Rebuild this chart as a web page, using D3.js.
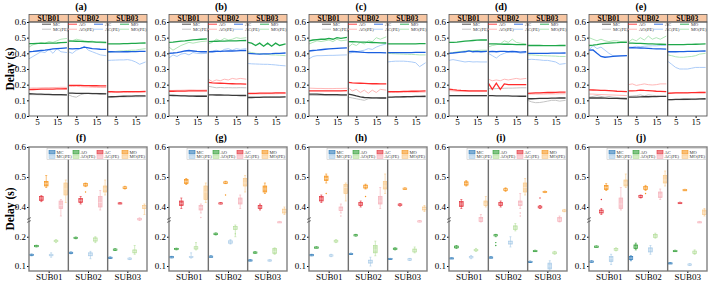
<!DOCTYPE html>
<html>
<head>
<meta charset="utf-8">
<script src="https://cdn.jsdelivr.net/npm/d3@7"></script>
<style>
  body { margin: 0; background: #fff; }
  text { font-family: "Liberation Serif", "Times New Roman", serif; }
</style>
</head>
<body>
<svg id="chart" width="708" height="283"></svg>
<script>
const subjects = ["SUB01", "SUB02", "SUB03"];
const seriesNames = ["MC", "AO", "AC", "MO", "MC(PE)", "AO(PE)", "AC(PE)", "MO(PE)"];
const trials = [1, 3, 5, 7, 9, 11, 13, 15, 17, 20];
const lineTitles = ["(a)", "(b)", "(c)", "(d)", "(e)"];
const boxTitles = ["(f)", "(g)", "(h)", "(i)", "(j)"];
const lineTicksY = [0, 0.1, 0.2, 0.3, 0.4, 0.5, 0.6];
const lineTicksX = [5, 15];
const boxTicksLow = [0.1, 0.2];
const boxTicksHigh = [0.4, 0.5, 0.6];

// delay per trial: [subject][series][trial]
const delayA = [
  [[0.142,0.141,0.14,0.139,0.138,0.138,0.137,0.136,0.136,0.135],
   [0.168,0.169,0.17,0.171,0.171,0.172,0.172,0.173,0.173,0.174],
   [0.41,0.412,0.415,0.418,0.42,0.424,0.428,0.43,0.432,0.435],
   [0.462,0.462,0.463,0.463,0.464,0.465,0.465,0.466,0.468,0.47],
   [0.137,0.136,0.136,0.135,0.135,0.134,0.134,0.133,0.133,0.133],
   [0.178,0.179,0.179,0.18,0.181,0.181,0.182,0.182,0.183,0.183],
   [0.365,0.38,0.395,0.41,0.405,0.425,0.4,0.43,0.41,0.405],
   [0.44,0.455,0.46,0.47,0.465,0.475,0.47,0.48,0.49,0.495]],
  [[0.146,0.146,0.145,0.145,0.144,0.144,0.143,0.143,0.142,0.141],
   [0.196,0.196,0.195,0.195,0.194,0.194,0.193,0.193,0.192,0.192],
   [0.43,0.428,0.43,0.432,0.44,0.435,0.43,0.428,0.426,0.425],
   [0.478,0.478,0.477,0.476,0.475,0.474,0.473,0.472,0.471,0.47],
   [0.135,0.125,0.12,0.135,0.142,0.144,0.145,0.145,0.144,0.144],
   [0.19,0.188,0.19,0.187,0.186,0.185,0.184,0.183,0.182,0.182],
   [0.41,0.4,0.42,0.43,0.445,0.42,0.41,0.4,0.39,0.385],
   [0.485,0.48,0.49,0.485,0.48,0.475,0.478,0.47,0.468,0.465]],
  [[0.122,0.123,0.124,0.125,0.126,0.127,0.127,0.128,0.128,0.129],
   [0.155,0.155,0.154,0.154,0.155,0.155,0.156,0.156,0.156,0.157],
   [0.41,0.41,0.409,0.409,0.41,0.41,0.411,0.411,0.412,0.412],
   [0.46,0.46,0.46,0.461,0.462,0.462,0.463,0.464,0.465,0.466],
   [0.12,0.121,0.121,0.122,0.122,0.122,0.123,0.123,0.123,0.124],
   [0.15,0.15,0.15,0.151,0.151,0.151,0.151,0.152,0.152,0.152],
   [0.355,0.356,0.357,0.358,0.358,0.36,0.355,0.345,0.33,0.345],
   [0.405,0.41,0.412,0.415,0.415,0.418,0.42,0.42,0.425,0.43]]
];
const delayB = [
  [[0.132,0.131,0.13,0.129,0.128,0.127,0.127,0.126,0.126,0.126],
   [0.158,0.158,0.159,0.159,0.159,0.16,0.16,0.16,0.161,0.161],
   [0.40,0.402,0.405,0.41,0.415,0.418,0.415,0.412,0.41,0.41],
   [0.47,0.472,0.475,0.478,0.48,0.483,0.486,0.488,0.49,0.492],
   [0.133,0.132,0.132,0.131,0.131,0.13,0.13,0.13,0.13,0.129],
   [0.163,0.163,0.164,0.164,0.165,0.166,0.166,0.165,0.165,0.166],
   [0.37,0.39,0.38,0.395,0.40,0.39,0.405,0.40,0.398,0.40],
   [0.44,0.42,0.435,0.45,0.46,0.47,0.465,0.47,0.475,0.478]],
  [[0.135,0.135,0.134,0.134,0.133,0.133,0.132,0.132,0.131,0.131],
   [0.215,0.212,0.21,0.209,0.208,0.207,0.206,0.205,0.205,0.204],
   [0.41,0.41,0.412,0.413,0.414,0.415,0.415,0.416,0.417,0.418],
   [0.475,0.476,0.477,0.478,0.478,0.479,0.48,0.48,0.481,0.482],
   [0.19,0.185,0.18,0.182,0.18,0.181,0.18,0.18,0.181,0.18],
   [0.235,0.22,0.23,0.225,0.235,0.23,0.24,0.235,0.24,0.235],
   [0.41,0.415,0.42,0.41,0.425,0.43,0.42,0.43,0.425,0.43],
   [0.46,0.47,0.49,0.48,0.495,0.485,0.49,0.5,0.495,0.5]],
  [[0.118,0.118,0.119,0.119,0.12,0.12,0.12,0.121,0.121,0.122],
   [0.145,0.145,0.145,0.146,0.146,0.146,0.146,0.147,0.147,0.147],
   [0.40,0.398,0.396,0.395,0.396,0.397,0.398,0.40,0.40,0.402],
   [0.47,0.465,0.45,0.465,0.445,0.465,0.445,0.465,0.45,0.46],
   [0.12,0.12,0.12,0.121,0.121,0.121,0.122,0.122,0.122,0.122],
   [0.14,0.14,0.141,0.141,0.141,0.142,0.142,0.142,0.143,0.143],
   [0.335,0.333,0.332,0.331,0.33,0.33,0.328,0.326,0.323,0.32],
   [0.41,0.405,0.4,0.398,0.395,0.393,0.39,0.39,0.388,0.385]]
];
const delayC = [
  [[0.14,0.14,0.139,0.138,0.137,0.137,0.136,0.136,0.135,0.135],
   [0.16,0.16,0.161,0.16,0.16,0.16,0.16,0.161,0.161,0.162],
   [0.415,0.418,0.42,0.423,0.426,0.428,0.43,0.432,0.433,0.435],
   [0.48,0.485,0.488,0.49,0.49,0.495,0.49,0.5,0.495,0.502],
   [0.132,0.132,0.131,0.131,0.131,0.13,0.13,0.13,0.13,0.13],
   [0.178,0.177,0.176,0.176,0.175,0.175,0.175,0.176,0.176,0.177],
   [0.365,0.38,0.385,0.385,0.386,0.387,0.387,0.388,0.389,0.39],
   [0.46,0.47,0.48,0.475,0.48,0.485,0.475,0.49,0.48,0.485]],
  [[0.14,0.135,0.128,0.122,0.118,0.117,0.116,0.116,0.115,0.115],
   [0.215,0.212,0.21,0.209,0.208,0.207,0.206,0.206,0.205,0.205],
   [0.41,0.412,0.41,0.408,0.406,0.405,0.405,0.404,0.404,0.403],
   [0.475,0.474,0.473,0.472,0.471,0.47,0.469,0.468,0.467,0.466],
   [0.12,0.115,0.11,0.105,0.10,0.11,0.112,0.114,0.115,0.115],
   [0.18,0.16,0.17,0.15,0.165,0.145,0.165,0.15,0.17,0.165],
   [0.40,0.405,0.41,0.415,0.42,0.43,0.425,0.44,0.45,0.46],
   [0.44,0.46,0.45,0.47,0.46,0.48,0.475,0.5,0.49,0.505]],
  [[0.12,0.121,0.122,0.122,0.123,0.124,0.124,0.125,0.125,0.126],
   [0.155,0.155,0.156,0.156,0.157,0.157,0.158,0.158,0.159,0.16],
   [0.405,0.405,0.404,0.404,0.405,0.405,0.405,0.406,0.406,0.406],
   [0.46,0.46,0.46,0.46,0.46,0.461,0.461,0.461,0.462,0.462],
   [0.118,0.118,0.119,0.119,0.12,0.12,0.12,0.121,0.121,0.121],
   [0.15,0.15,0.15,0.151,0.151,0.152,0.152,0.152,0.153,0.153],
   [0.345,0.348,0.35,0.35,0.35,0.348,0.345,0.34,0.315,0.34],
   [0.40,0.398,0.397,0.396,0.395,0.394,0.393,0.392,0.39,0.39]]
];
const delayD = [
  [[0.13,0.13,0.13,0.13,0.13,0.13,0.13,0.13,0.13,0.13],
   [0.172,0.168,0.165,0.163,0.162,0.161,0.16,0.16,0.16,0.16],
   [0.40,0.402,0.405,0.408,0.41,0.415,0.41,0.413,0.41,0.412],
   [0.47,0.47,0.472,0.475,0.478,0.48,0.482,0.484,0.485,0.485],
   [0.128,0.128,0.128,0.128,0.128,0.128,0.128,0.128,0.128,0.128],
   [0.162,0.16,0.158,0.157,0.157,0.157,0.157,0.157,0.157,0.157],
   [0.355,0.36,0.355,0.35,0.345,0.348,0.345,0.346,0.345,0.345],
   [0.40,0.405,0.41,0.412,0.415,0.416,0.417,0.418,0.42,0.42]],
  [[0.13,0.13,0.129,0.129,0.128,0.128,0.127,0.127,0.126,0.126],
   [0.21,0.17,0.21,0.17,0.205,0.2,0.2,0.2,0.2,0.2],
   [0.41,0.412,0.41,0.413,0.412,0.41,0.412,0.41,0.408,0.41],
   [0.46,0.46,0.46,0.459,0.458,0.458,0.457,0.456,0.456,0.455],
   [0.175,0.173,0.175,0.176,0.177,0.178,0.178,0.179,0.18,0.18],
   [0.235,0.225,0.23,0.225,0.235,0.23,0.235,0.24,0.235,0.24],
   [0.40,0.385,0.37,0.39,0.40,0.41,0.405,0.41,0.40,0.405],
   [0.44,0.45,0.455,0.46,0.48,0.47,0.49,0.47,0.465,0.46]],
  [[0.11,0.11,0.111,0.112,0.113,0.113,0.114,0.114,0.115,0.115],
   [0.145,0.146,0.147,0.148,0.149,0.15,0.15,0.151,0.152,0.152],
   [0.40,0.40,0.40,0.40,0.40,0.40,0.401,0.401,0.401,0.402],
   [0.45,0.45,0.45,0.45,0.449,0.449,0.449,0.449,0.45,0.45],
   [0.10,0.09,0.085,0.086,0.09,0.095,0.1,0.1,0.095,0.1],
   [0.14,0.14,0.14,0.14,0.14,0.141,0.141,0.141,0.142,0.142],
   [0.36,0.362,0.36,0.358,0.355,0.355,0.35,0.345,0.33,0.335],
   [0.39,0.39,0.388,0.386,0.385,0.384,0.383,0.382,0.38,0.38]]
];
const delayE = [
  [[0.115,0.116,0.115,0.115,0.114,0.113,0.113,0.112,0.111,0.11],
   [0.167,0.166,0.165,0.164,0.163,0.162,0.16,0.158,0.157,0.155],
   [0.42,0.422,0.40,0.38,0.375,0.378,0.38,0.382,0.384,0.385],
   [0.45,0.452,0.455,0.46,0.463,0.465,0.467,0.468,0.47,0.47],
   [0.12,0.125,0.13,0.125,0.12,0.125,0.12,0.118,0.117,0.115],
   [0.14,0.14,0.138,0.137,0.136,0.135,0.134,0.133,0.132,0.13],
   [0.42,0.45,0.43,0.44,0.42,0.40,0.385,0.385,0.385,0.385],
   [0.50,0.49,0.48,0.49,0.48,0.475,0.48,0.48,0.475,0.478]],
  [[0.12,0.12,0.121,0.122,0.123,0.123,0.124,0.124,0.125,0.125],
   [0.16,0.16,0.162,0.165,0.163,0.162,0.16,0.158,0.157,0.155],
   [0.435,0.436,0.435,0.434,0.433,0.432,0.43,0.429,0.428,0.427],
   [0.465,0.465,0.464,0.463,0.462,0.461,0.46,0.459,0.458,0.457],
   [0.125,0.128,0.13,0.135,0.128,0.135,0.132,0.13,0.125,0.125],
   [0.2,0.205,0.195,0.2,0.205,0.2,0.198,0.2,0.205,0.205],
   [0.44,0.44,0.445,0.442,0.445,0.447,0.448,0.448,0.45,0.45],
   [0.47,0.49,0.48,0.50,0.485,0.51,0.49,0.50,0.49,0.51]],
  [[0.105,0.105,0.106,0.106,0.107,0.107,0.108,0.108,0.109,0.11],
   [0.145,0.146,0.147,0.147,0.148,0.148,0.149,0.149,0.15,0.15],
   [0.41,0.41,0.41,0.411,0.411,0.412,0.412,0.413,0.414,0.415],
   [0.455,0.455,0.455,0.456,0.456,0.457,0.457,0.458,0.459,0.46],
   [0.103,0.103,0.104,0.104,0.104,0.105,0.105,0.105,0.106,0.106],
   [0.148,0.148,0.149,0.149,0.15,0.15,0.15,0.151,0.151,0.151],
   [0.35,0.33,0.31,0.30,0.30,0.30,0.305,0.31,0.31,0.31],
   [0.39,0.385,0.378,0.375,0.375,0.378,0.38,0.385,0.395,0.40]]
];

// box stats: [subject][series] = [low, q1, median, q3, high]
const boxF = [
  [[0.135,0.136,0.138,0.14,0.141],[0.165,0.166,0.168,0.17,0.171],[0.418,0.422,0.43,0.435,0.438],[0.465,0.47,0.478,0.485,0.505],
   [0.13,0.135,0.138,0.14,0.145],[0.18,0.183,0.185,0.188,0.19],[0.37,0.395,0.405,0.42,0.425],[0.415,0.44,0.46,0.48,0.49]],
  [[0.142,0.143,0.145,0.147,0.148],[0.193,0.194,0.196,0.198,0.199],[0.41,0.415,0.422,0.428,0.435],[0.468,0.47,0.474,0.478,0.48],
   [0.125,0.135,0.14,0.145,0.15],[0.18,0.185,0.19,0.196,0.2],[0.39,0.40,0.415,0.435,0.455],[0.44,0.45,0.46,0.47,0.49]],
  [[0.126,0.127,0.128,0.13,0.131],[0.153,0.154,0.156,0.158,0.159],[0.411,0.412,0.413,0.414,0.415],[0.46,0.462,0.465,0.467,0.469],
   [0.122,0.123,0.125,0.127,0.128],[0.14,0.145,0.15,0.155,0.17],[0.355,0.357,0.36,0.362,0.364],[0.375,0.395,0.40,0.405,0.41]]
];
const boxG = [
  [[0.128,0.129,0.13,0.132,0.133],[0.155,0.156,0.158,0.16,0.161],[0.395,0.405,0.412,0.42,0.43],[0.475,0.478,0.485,0.492,0.495],
   [0.127,0.129,0.131,0.133,0.145],[0.155,0.158,0.162,0.166,0.18],[0.38,0.39,0.398,0.405,0.41],[0.415,0.425,0.45,0.47,0.48]],
  [[0.132,0.132,0.133,0.134,0.135],[0.206,0.207,0.21,0.212,0.213],[0.41,0.411,0.412,0.414,0.415],[0.478,0.479,0.482,0.484,0.486],
   [0.175,0.178,0.182,0.186,0.19],[0.2,0.225,0.23,0.235,0.24],[0.395,0.41,0.42,0.43,0.44],[0.45,0.47,0.48,0.495,0.505]],
  [[0.118,0.119,0.12,0.121,0.122],[0.144,0.145,0.147,0.148,0.149],[0.39,0.395,0.40,0.405,0.41],[0.445,0.45,0.46,0.47,0.48],
   [0.117,0.118,0.12,0.121,0.122],[0.14,0.143,0.15,0.16,0.162],[0.349,0.35,0.35,0.351,0.352],[0.375,0.38,0.387,0.393,0.4]]
];
const boxH = [
  [[0.135,0.136,0.137,0.139,0.14],[0.162,0.163,0.164,0.165,0.166],[0.415,0.42,0.427,0.435,0.44],[0.48,0.488,0.495,0.503,0.51],
   [0.132,0.134,0.136,0.138,0.14],[0.18,0.182,0.185,0.188,0.19],[0.38,0.388,0.393,0.4,0.41],[0.42,0.445,0.465,0.475,0.48]],
  [[0.14,0.141,0.142,0.143,0.144],[0.202,0.203,0.205,0.207,0.208],[0.40,0.405,0.41,0.415,0.42],[0.46,0.463,0.468,0.473,0.476],
   [0.1,0.11,0.115,0.12,0.13],[0.135,0.145,0.155,0.17,0.185],[0.395,0.41,0.42,0.435,0.465],[0.445,0.46,0.47,0.485,0.51]],
  [[0.124,0.124,0.125,0.126,0.126],[0.155,0.156,0.158,0.161,0.162],[0.403,0.405,0.407,0.41,0.411],[0.46,0.461,0.462,0.463,0.464],
   [0.119,0.12,0.122,0.125,0.126],[0.145,0.148,0.152,0.158,0.165],[0.35,0.351,0.352,0.354,0.355],[0.385,0.39,0.395,0.4,0.405]]
];
const boxI = [
  [[0.126,0.126,0.127,0.128,0.128],[0.16,0.162,0.165,0.168,0.17],[0.395,0.402,0.41,0.418,0.425],[0.47,0.473,0.478,0.484,0.488],
   [0.125,0.128,0.13,0.132,0.136],[0.15,0.152,0.155,0.157,0.16],[0.35,0.352,0.357,0.365,0.375],[0.40,0.405,0.41,0.42,0.435]],
  [[0.128,0.129,0.13,0.131,0.132],[0.2,0.203,0.205,0.207,0.208],[0.40,0.405,0.41,0.415,0.42],[0.452,0.455,0.458,0.461,0.464],
   [0.165,0.175,0.18,0.185,0.2],[0.22,0.225,0.23,0.237,0.245],[0.395,0.405,0.412,0.42,0.445],[0.44,0.45,0.465,0.48,0.495]],
  [[0.113,0.114,0.115,0.116,0.117],[0.15,0.151,0.152,0.153,0.154],[0.395,0.397,0.40,0.403,0.405],[0.448,0.449,0.45,0.452,0.453],
   [0.085,0.09,0.1,0.11,0.118],[0.14,0.142,0.145,0.148,0.15],[0.35,0.352,0.357,0.365,0.37],[0.384,0.386,0.388,0.39,0.392]]
];
const boxJ = [
  [[0.113,0.114,0.115,0.117,0.118],[0.165,0.166,0.167,0.168,0.169],[0.375,0.38,0.385,0.39,0.395],[0.455,0.458,0.465,0.472,0.478],
   [0.105,0.115,0.125,0.132,0.14],[0.152,0.154,0.157,0.16,0.162],[0.39,0.395,0.41,0.43,0.465],[0.465,0.47,0.48,0.49,0.51]],
  [[0.118,0.122,0.127,0.132,0.135],[0.155,0.16,0.165,0.172,0.178],[0.43,0.432,0.435,0.438,0.44],[0.455,0.458,0.463,0.468,0.472],
   [0.14,0.148,0.155,0.162,0.17],[0.195,0.198,0.202,0.208,0.212],[0.425,0.432,0.44,0.45,0.46],[0.47,0.48,0.49,0.505,0.52]],
  [[0.109,0.11,0.11,0.111,0.112],[0.15,0.151,0.152,0.153,0.154],[0.412,0.413,0.414,0.415,0.416],[0.455,0.456,0.457,0.458,0.459],
   [0.102,0.103,0.105,0.107,0.108],[0.14,0.143,0.147,0.151,0.155],[0.348,0.349,0.35,0.351,0.352],[0.37,0.375,0.38,0.39,0.395]]
];

// outliers: [subject index, series index, value]
const outF = [[1, 3, 0.45]];
const outG = [[0, 6, 0.365], [1, 3, 0.44], [1, 5, 0.21]];
const outH = [[0, 3, 0.445], [0, 6, 0.37], [1, 3, 0.435]];
const outI = [[1, 1, 0.18], [1, 1, 0.17], [1, 6, 0.38], [1, 6, 0.37], [2, 2, 0.43]];
const outJ = [[0, 2, 0.425], [1, 3, 0.445]];

const lineColors = ["#3a3a3a", "#ff2b2b", "#1b5fe0", "#1fa84a", "#bdbdbd", "#ffafaf", "#a3c6f7", "#a6e2ae"];
const boxColors = ["#2a78b8", "#2f9e34", "#e3323c", "#f5941c", "#a8cbe8", "#b6df9c", "#f6b2bb", "#f9ca8c"];

const lineSets = [delayA, delayB, delayC, delayD, delayE];
const boxSets = [boxF, boxG, boxH, boxI, boxJ];
const outSets = [outF, outG, outH, outI, outJ];

const svg = d3.select("#chart");
const left = 29, right = 147;

// ---------- top row: line panels ----------
lineSets.forEach(function (set, p) {
  const g = svg.append("g").attr("transform", `translate(${140 * p},0)`);
  const fx = d3.scaleBand().domain(subjects).range([left, right]);
  const x = d3.scaleLinear().domain([1, 20.7]).range([0, fx.bandwidth()]);
  const y = d3.scaleLinear().domain([0, 0.6]).range([116, 22]);

  g.append("text").attr("x", 81).attr("y", 10).attr("text-anchor", "middle")
    .attr("font-size", 10).attr("font-weight", "bold").text(lineTitles[p]);

  // strip headers
  subjects.forEach(function (s) {
    g.append("rect").attr("x", fx(s)).attr("y", 14.5).attr("width", fx.bandwidth()).attr("height", 7.5)
      .attr("fill", "#f6c6a3").attr("stroke", "#555").attr("stroke-width", 0.8);
    g.append("text").attr("x", fx(s) + fx.bandwidth() / 2).attr("y", 21).attr("text-anchor", "middle")
      .attr("font-size", 7.5).attr("font-weight", "bold").text(s);
  });

  // lines, light ones first
  const order = [4, 5, 6, 7, 0, 1, 2, 3];
  set.forEach(function (subjectRows, si) {
    const sx = fx(subjects[si]);
    const line = d3.line().x((v, i) => sx + x(trials[i])).y(v => y(v));
    order.forEach(function (k) {
      g.append("path").datum(subjectRows[k]).attr("d", line).attr("fill", "none")
        .attr("stroke", lineColors[k]).attr("stroke-width", k < 4 ? 1.3 : 0.9);
    });
    g.append("g").attr("transform", `translate(${sx},116)`)
      .call(d3.axisBottom(x).tickValues(lineTicksX).tickSize(2).tickPadding(1))
      .call(a => a.select(".domain").remove())
      .call(a => a.selectAll("text").attr("font-size", 9).attr("font-family", "Liberation Serif"));
  });

  g.append("g").attr("transform", `translate(${left},0)`)
    .call(d3.axisLeft(y).tickValues(lineTicksY).tickFormat(d3.format(".1f")).tickSize(2).tickPadding(1))
    .call(a => a.select(".domain").remove())
    .call(a => a.selectAll("text").attr("font-size", 9).attr("font-family", "Liberation Serif"));

  // frame + facet dividers
  g.append("rect").attr("x", left).attr("y", 22).attr("width", right - left).attr("height", 94)
    .attr("fill", "none").attr("stroke", "#555").attr("stroke-width", 0.9);
  [1, 2].forEach(function (i) {
    g.append("line").attr("x1", fx(subjects[i])).attr("x2", fx(subjects[i])).attr("y1", 22).attr("y2", 116)
      .attr("stroke", "#555").attr("stroke-width", 1.3);
  });

  // legend
  const colX = [53, 79, 105, 131];
  seriesNames.forEach(function (name, k) {
    const cx = colX[k % 4], cy = k < 4 ? 25.5 : 30.5;
    g.append("line").attr("x1", cx - 11).attr("x2", cx - 2).attr("y1", cy - 1.3).attr("y2", cy - 1.3)
      .attr("stroke", lineColors[k]).attr("stroke-width", 0.9);
    g.append("text").attr("x", cx).attr("y", cy).attr("font-size", 4.5).attr("fill", "#333").text(name);
  });
});

// ---------- bottom row: box panels ----------
boxSets.forEach(function (set, p) {
  const g = svg.append("g").attr("transform", `translate(${140 * p},0)`);
  const fx = d3.scaleBand().domain(subjects).range([left, right]);
  const inner = d3.scaleBand().domain(seriesNames).range([0, fx.bandwidth()]).paddingInner(0.25).paddingOuter(0.15);
  const yLow = d3.scaleLinear().domain([0.083, 0.24]).range([271, 225]);
  const yHigh = d3.scaleLinear().domain([0.34, 0.6]).range([225, 147]);
  const y = v => (v < 0.3 ? yLow(v) : yHigh(v));

  g.append("text").attr("x", 81).attr("y", 141).attr("text-anchor", "middle")
    .attr("font-size", 10).attr("font-weight", "bold").text(boxTitles[p]);

  set.forEach(function (subjectBoxes, si) {
    const sx = fx(subjects[si]);
    subjectBoxes.forEach(function (b, k) {
      const bx = sx + inner(seriesNames[k]), bw = inner.bandwidth(), cx = bx + bw / 2;
      const c = boxColors[k];
      g.append("line").attr("x1", cx).attr("x2", cx).attr("y1", y(b[0])).attr("y2", y(b[4]))
        .attr("stroke", c).attr("stroke-width", 0.6);
      [b[0], b[4]].forEach(v => g.append("line").attr("x1", cx - 1).attr("x2", cx + 1)
        .attr("y1", y(v)).attr("y2", y(v)).attr("stroke", c).attr("stroke-width", 0.6));
      g.append("rect").attr("x", bx).attr("width", bw).attr("y", y(b[3]))
        .attr("height", Math.max(1.2, y(b[1]) - y(b[3])))
        .attr("fill", c).attr("fill-opacity", 0.6).attr("stroke", c).attr("stroke-width", 0.7);
      g.append("line").attr("x1", bx).attr("x2", bx + bw).attr("y1", y(b[2])).attr("y2", y(b[2]))
        .attr("stroke", "#fff").attr("stroke-opacity", 0.7).attr("stroke-width", 0.5);
    });
  });

  outSets[p].forEach(function (o) {
    const cx = fx(subjects[o[0]]) + inner(seriesNames[o[1]]) + inner.bandwidth() / 2;
    g.append("circle").attr("cx", cx).attr("cy", y(o[2])).attr("r", 0.7).attr("fill", boxColors[o[1]]);
  });

  // axes
  [[yLow, boxTicksLow], [yHigh, boxTicksHigh]].forEach(function (pair) {
    g.append("g").attr("transform", `translate(${left},0)`)
      .call(d3.axisLeft(pair[0]).tickValues(pair[1]).tickFormat(d3.format(".1f")).tickSize(2).tickPadding(1))
      .call(a => a.select(".domain").remove())
      .call(a => a.selectAll("text").attr("font-size", 9).attr("font-family", "Liberation Serif"));
  });
  const xg = d3.scalePoint().domain(subjects).range([left + fx.bandwidth() / 2, right - fx.bandwidth() / 2]);
  g.append("g").attr("transform", "translate(0,271)")
    .call(d3.axisBottom(xg).tickSize(2).tickPadding(1))
    .call(a => a.select(".domain").remove())
    .call(a => a.selectAll("text").attr("font-size", 9).attr("font-family", "Liberation Serif"));

  g.append("rect").attr("x", left).attr("y", 147).attr("width", right - left).attr("height", 124)
    .attr("fill", "none").attr("stroke", "#808080").attr("stroke-width", 1.4);
  [1, 2].forEach(function (i) {
    g.append("line").attr("x1", fx(subjects[i])).attr("x2", fx(subjects[i])).attr("y1", 147).attr("y2", 271)
      .attr("stroke", "#707070").attr("stroke-width", 1.4);
  });
  // axis break marks
  [218.5, 221.5].forEach(function (yy) {
    g.append("line").attr("x1", left - 2).attr("x2", left + 2).attr("y1", yy + 1).attr("y2", yy - 1)
      .attr("stroke", "#333").attr("stroke-width", 0.6);
  });

  // legend
  g.append("rect").attr("x", 47).attr("y", 148.5).attr("width", 99).attr("height", 11)
    .attr("fill", "#fff").attr("stroke", "#bbb").attr("stroke-width", 0.5);
  const colX = [49, 73, 97, 122];
  seriesNames.forEach(function (name, k) {
    const cx = colX[k % 4], cy = k < 4 ? 150.5 : 155;
    g.append("rect").attr("x", cx).attr("y", cy).attr("width", 6).attr("height", 3.5)
      .attr("fill", boxColors[k]).attr("fill-opacity", 0.6).attr("stroke", boxColors[k]).attr("stroke-width", 0.6);
    g.append("text").attr("x", cx + 7.5).attr("y", cy + 3.3).attr("font-size", 4.5).attr("fill", "#333").text(name);
  });
});

// y axis titles
[69, 209].forEach(function (cy) {
  svg.append("text").attr("transform", `translate(14,${cy}) rotate(-90)`).attr("text-anchor", "middle")
    .attr("font-size", 11.5).attr("font-weight", "bold").text("Delay (s)");
});
</script>
</body>
</html>
